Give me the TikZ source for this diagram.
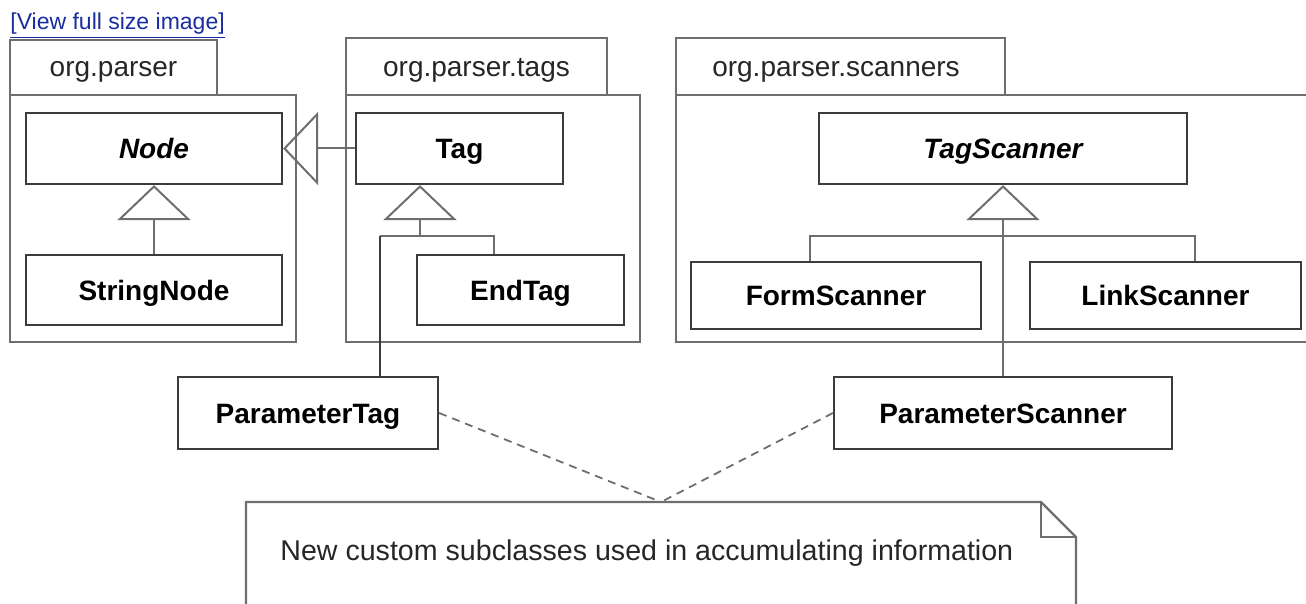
\documentclass[tikz,border=0pt]{standalone}
\usepackage{fontspec}
\setmainfont{Liberation Sans}
\usetikzlibrary{arrows.meta}
\definecolor{boxclr}{RGB}{60,60,60}
\definecolor{pkgclr}{RGB}{110,110,110}
\definecolor{linkblue}{RGB}{25,45,160}
\begin{document}
\begin{tikzpicture}[x=0.5pt,y=-0.5pt,
  cls/.style={draw=boxclr, line width=1.1pt, fill=white, inner sep=0pt,
    text height=10pt, text depth=0pt,
    font=\fontsize{14}{16}\selectfont\bfseries},
  pkg/.style={draw=pkgclr, line width=1.1pt},
  pkgtxt/.style={inner sep=0pt, text=black!85, text height=10pt, text depth=0pt,
    font=\fontsize{14}{16}\selectfont},
  gen/.style={draw=pkgclr, line width=1pt,
    -{Triangle[open, length=17.5pt, width=36.5pt, line width=1pt]}},
  conn/.style={draw=pkgclr, line width=1pt},
  thin/.style={draw=boxclr, line width=0.6pt},
  dep/.style={draw=pkgclr, line width=0.9pt, dash pattern=on 4pt off 3pt},
  notetxt/.style={inner sep=0pt, text=black!85, font=\fontsize{14.3}{16}\selectfont}
]
\clip (0,0) rectangle (1306,604);
\useasboundingbox (0,0) rectangle (1306,604);

% link
\node[anchor=base west, inner sep=0pt, text=linkblue,
  font=\fontsize{11.5}{13}\selectfont] (link) at (10,30) {\underline{[View full size image]}};

% packages
\draw[pkg] (10,95) -- (10,40) -- (217,40) -- (217,95);
\draw[pkg] (10,95) rectangle (296,342);
\node[pkgtxt] (p1) at (113.5,67) {org.parser};

\draw[pkg] (346,95) -- (346,38) -- (607,38) -- (607,95);
\draw[pkg] (346,95) rectangle (640,342);
\node[pkgtxt] (p2) at (476.5,67) {org.parser.tags};

\draw[pkg] (676,95) -- (676,38) -- (1005,38) -- (1005,95);
\draw[pkg] (1320,95) -- (676,95) -- (676,342) -- (1320,342);
\node[pkgtxt] (p3) at (836,67) {org.parser.scanners};

% classes
\node[cls, minimum width=128pt, minimum height=35.5pt] (Node) at (154,148.5) {\itshape Node};
\node[cls, minimum width=128pt, minimum height=35pt] (StringNode) at (154,290) {StringNode};
\node[cls, minimum width=103.5pt, minimum height=35.5pt] (Tag) at (459.5,148.5) {Tag};
\node[cls, minimum width=103.5pt, minimum height=35pt] (EndTag) at (520.5,290) {EndTag};
\node[cls, minimum width=184pt, minimum height=35.5pt] (TagScanner) at (1003,148.5) {\itshape TagScanner};
\node[cls, minimum width=145pt, minimum height=33.5pt] (FormScanner) at (836,295.5) {FormScanner};
\node[cls, minimum width=135.5pt, minimum height=33.5pt] (LinkScanner) at (1165.5,295.5) {LinkScanner};
\node[cls, minimum width=130pt, minimum height=36pt] (ParameterTag) at (308,413) {ParameterTag};
\node[cls, minimum width=169pt, minimum height=36pt] (ParameterScanner) at (1003,413) {ParameterScanner};

% generalizations
\draw[gen] (StringNode.north) -- (Node.south);
\draw[gen] (Tag.west) -- (Node.east);

\coordinate (tj) at (420,236);
\coordinate (ptl) at (380,236);
\coordinate (etl) at (494,236);
\draw[conn] (ptl) -- (etl) -- (EndTag.north -| etl);
\draw[thin] (ParameterTag.north -| ptl) -- (ptl);
\draw[gen] (tj) -- (Tag.south -| tj);

\coordinate (fsl) at (810,236);
\coordinate (lsl) at (1195,236);
\draw[conn] (FormScanner.north -| fsl) -- (fsl) -- (lsl) -- (LinkScanner.north -| lsl);
\draw[gen, draw=pkgclr, line width=0.6pt] (ParameterScanner.north) -- (TagScanner.south);

% note
\draw[conn, line width=1.1pt] (246,620) -- (246,502) -- (1041,502) -- (1076,537) -- (1076,620);
\draw[conn, line width=1.1pt] (1041,502) -- (1041,537) -- (1076,537);
\coordinate (nt) at (661,502);
\node[notetxt, anchor=west] (note) at (280,553) {New custom subclasses used in accumulating information};

\draw[dep] (ParameterTag.east) -- (nt);
\draw[dep] (ParameterScanner.west) -- (nt);
\end{tikzpicture}
\end{document}
